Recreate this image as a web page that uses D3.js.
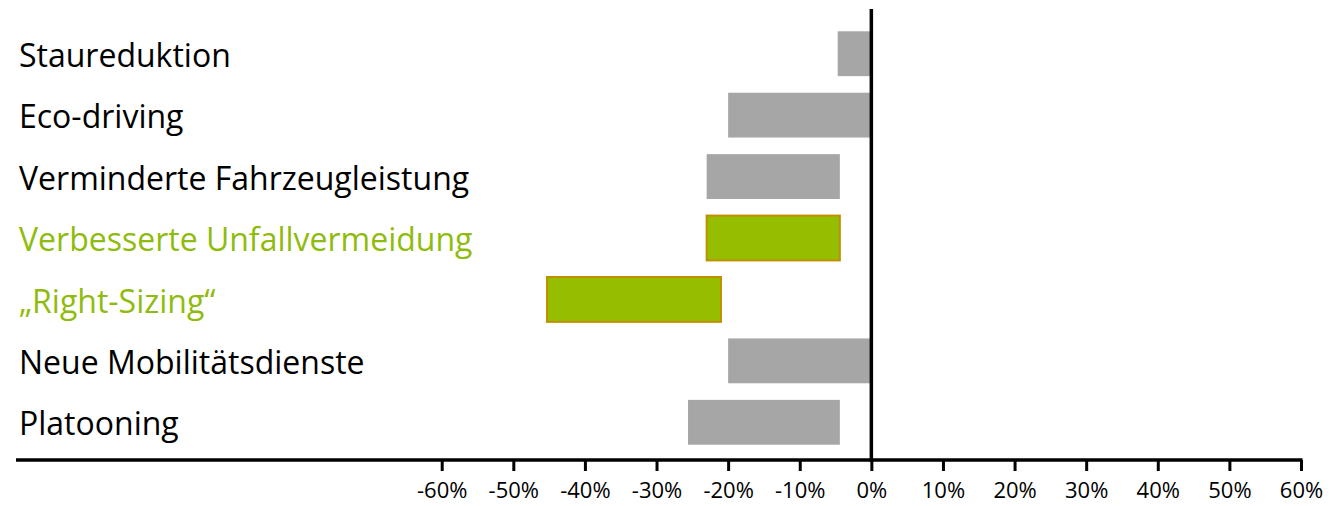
<!DOCTYPE html>
<html>
<head>
<meta charset="utf-8">
<script src="https://cdn.jsdelivr.net/npm/d3@7"></script>
<style>
  html, body { margin: 0; padding: 0; background: #fff; }
  svg { display: block; }
  text { font-family: "Open Sans", "Noto Sans", sans-serif; }
</style>
</head>
<body>
<svg id="chart" width="1332" height="506"></svg>
<script>
// Measures, top to bottom
const categories = [
  "Staureduktion",
  "Eco-driving",
  "Verminderte Fahrzeugleistung",
  "Verbesserte Unfallvermeidung",
  "\u201ERight-Sizing\u201C",
  "Neue Mobilitätsdienste",
  "Platooning"
];
// Range of the effect on energy use (share), low and high end
const lowValues  = [-0.047, -0.20, -0.23, -0.23, -0.453, -0.20, -0.256];
const highValues = [ 0.000,  0.00, -0.044, -0.044, -0.21,  0.00, -0.044];
// Measures highlighted in green
const highlighted = [false, false, false, true, true, false, false];
const tickValues = [-0.6, -0.5, -0.4, -0.3, -0.2, -0.1, 0, 0.1, 0.2, 0.3, 0.4, 0.5, 0.6];

const svg = d3.select("#chart");

const x = d3.scaleLinear().domain([-0.6, 0.6]).range([441.7, 1301]);
const y = d3.scaleBand().domain(categories).range([23, 453]).paddingInner(0.27).paddingOuter(0.135);

const GREY = "#a6a6a6";
const GREEN = "#96be00";
const GREEN_TEXT = "#8fbc0c";
const EDGE = "#bf8f00";

// bars
svg.append("g")
  .selectAll("rect")
  .data(categories)
  .join("rect")
  .attr("x", (d, i) => x(lowValues[i]))
  .attr("y", d => y(d))
  .attr("width", (d, i) => x(highValues[i]) - x(lowValues[i]))
  .attr("height", y.bandwidth())
  .attr("fill", (d, i) => highlighted[i] ? GREEN : GREY)
  .attr("stroke", (d, i) => highlighted[i] ? EDGE : "none")
  .attr("stroke-width", 2);

// category labels on the left
svg.append("g")
  .selectAll("text")
  .data(categories)
  .join("text")
  .attr("x", 19)
  .attr("y", d => y(d) + y.bandwidth() / 2)
  .attr("dy", "0.41em")
  .attr("font-size", 32)
  .attr("fill", (d, i) => highlighted[i] ? GREEN_TEXT : "#000")
  .text(d => d);

// x axis
const axis = d3.axisBottom(x)
  .tickValues(tickValues)
  .tickSize(11)
  .tickPadding(11)
  .tickFormat(d3.format(".0%"));

const gx = svg.append("g")
  .attr("transform", "translate(0,460)")
  .call(axis);
gx.select(".domain").remove();
gx.selectAll(".tick line").attr("stroke", "#000").attr("stroke-width", 3);
gx.selectAll(".tick text")
  .attr("font-size", 22)
  .attr("fill", "#000")
  .text(d => d3.format(".0%")(d).replace("\u2212", "-"));
gx.append("line")
  .attr("x1", 16).attr("x2", x(0.6) + 1.5)
  .attr("y1", 0).attr("y2", 0)
  .attr("stroke", "#000").attr("stroke-width", 3.5);

// zero line
svg.append("line")
  .attr("x1", x(0)).attr("x2", x(0))
  .attr("y1", 9).attr("y2", 462)
  .attr("stroke", "#000").attr("stroke-width", 3.5);
</script>
</body>
</html>
